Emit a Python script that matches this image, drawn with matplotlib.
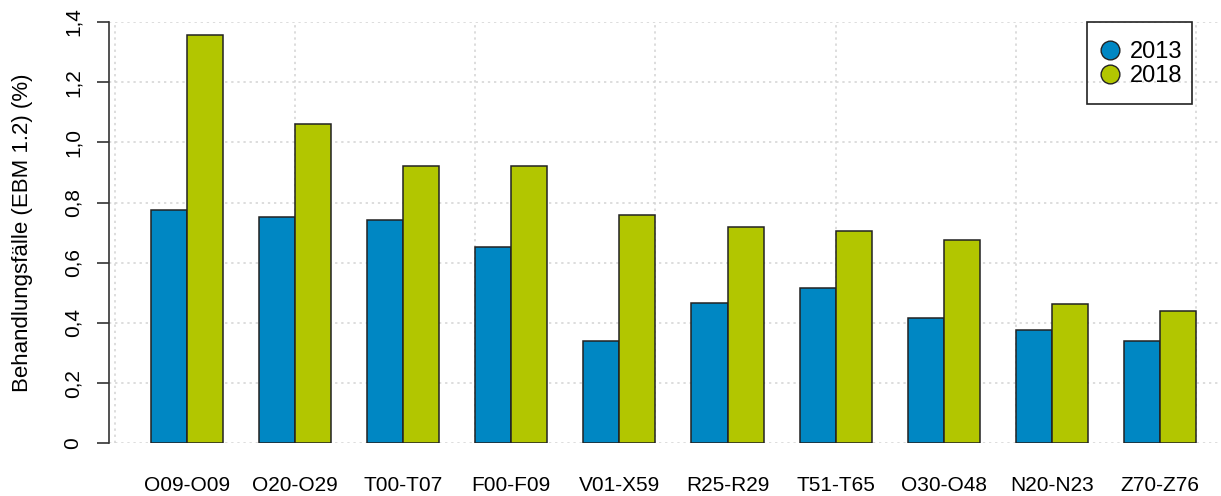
import numpy as np
import matplotlib
matplotlib.use("Agg")
import matplotlib.pyplot as plt
from matplotlib.lines import Line2D
from matplotlib.patches import Rectangle

categories = ["O09-O09", "O20-O29", "T00-T07", "F00-F09", "V01-X59",
              "R25-R29", "T51-T65", "O30-O48", "N20-N23", "Z70-Z76"]
values_2013 = [0.774, 0.752, 0.741, 0.653, 0.340, 0.465, 0.516, 0.415, 0.377, 0.340]
values_2018 = [1.356, 1.060, 0.922, 0.922, 0.760, 0.719, 0.705, 0.677, 0.464, 0.441]
yticks = [0, 0.2, 0.4, 0.6, 0.8, 1.0, 1.2, 1.4]
ytick_labels = ["0", "0,2", "0,4", "0,6", "0,8", "1,0", "1,2", "1,4"]

col_2013 = "#0087c3"
col_2018 = "#b2c600"


def main():
    plt.rcParams['font.family'] = ['Liberation Sans', 'DejaVu Sans']
    W, H = 1221, 496
    fig = plt.figure(figsize=(W / 100, H / 100), dpi=100)
    ax = fig.add_axes([109 / W, 1 - 443.3 / H, (1220 - 109) / W, (443.3 - 22) / H])

    n = len(categories)
    left = 3 * np.arange(n) + 1
    ax.bar(left, values_2013, width=1, align='edge', color=col_2013,
           edgecolor='#222222', linewidth=1.1, zorder=3)
    ax.bar(left + 1, values_2018, width=1, align='edge', color=col_2018,
           edgecolor='#222222', linewidth=1.1, zorder=3)

    ax.set_xlim(-0.155, 30.66)
    ax.set_ylim(0, 1.4)

    # grid like R's grid()
    for x in range(0, 31, 5):
        ax.axvline(x, color='#d3d3d3', linestyle=(0, (1.5, 2.5)), linewidth=1.1, zorder=1)
    for y in yticks:
        ax.axhline(y, color='#d3d3d3', linestyle=(0, (1.5, 2.5)), linewidth=1.1, zorder=1)

    for s in ['top', 'right', 'bottom']:
        ax.spines[s].set_visible(False)
    ax.spines['left'].set_color('#333333')
    ax.spines['left'].set_linewidth(1.2)

    ax.set_yticks(yticks)
    ax.set_yticklabels(ytick_labels, rotation=90, va='center', fontsize=15)
    ax.tick_params(axis='y', length=8.6, width=1.2, color='#333333', pad=10.5)
    ax.set_xticks(left + 1)
    ax.set_xticklabels(categories, fontsize=15)
    ax.tick_params(axis='x', length=0, pad=23.5)
    ax.set_ylabel("Behandlungsfälle (EBM 1.2) (%)", fontsize=16)
    ax.yaxis.set_label_coords(-0.068, 0.5)

    handles = [Line2D([], [], marker='o', linestyle='none', markersize=13.5,
                      markerfacecolor=col_2013, markeredgecolor='#222222'),
               Line2D([], [], marker='o', linestyle='none', markersize=13.5,
                      markerfacecolor=col_2018, markeredgecolor='#222222')]
    ax.legend(handles, ["2013", "2018"], loc='center',
              bbox_to_anchor=(1140 / W, 1 - 64 / H),
              bbox_transform=fig.transFigure, borderaxespad=0,
              fontsize=17, frameon=False,
              handletextpad=0.35, handlelength=1.0, labelspacing=0.1,
              borderpad=0)
    fig.patches.append(Rectangle((1087 / W, 1 - 104 / H), 105 / W, 82 / H,
                                 transform=fig.transFigure, facecolor='none',
                                 edgecolor='#222222', linewidth=1.2, zorder=5))

    fig.savefig("out.png", dpi=100)


if __name__ == "__main__":
    main()
